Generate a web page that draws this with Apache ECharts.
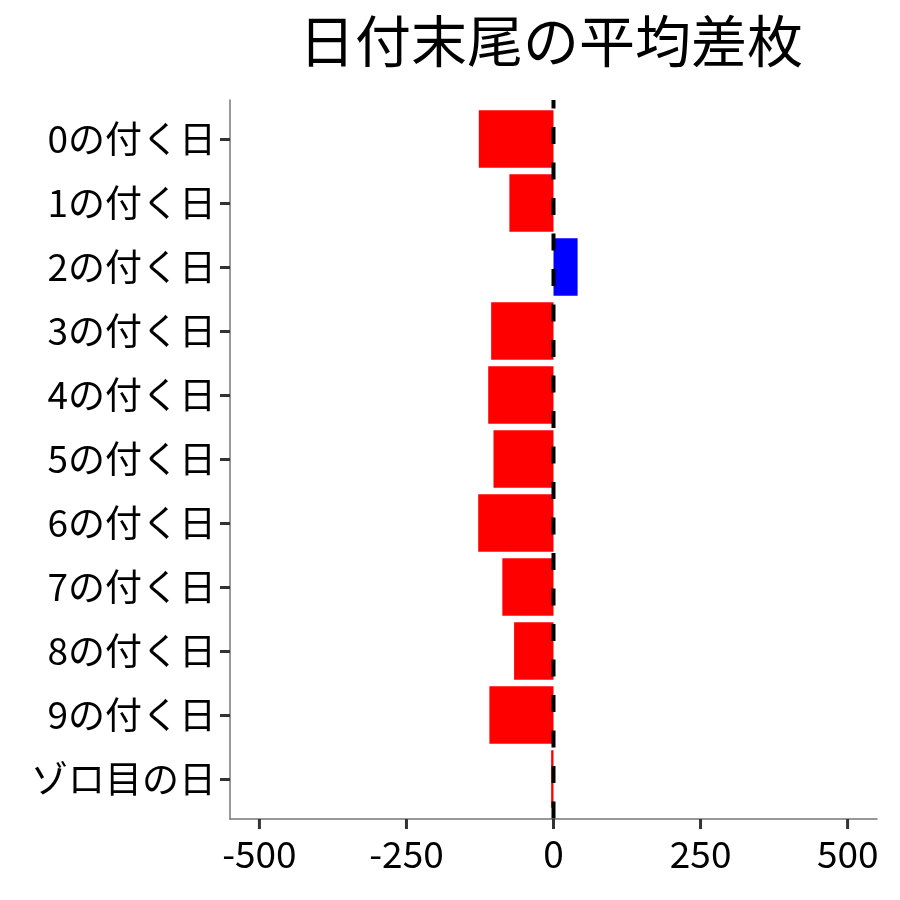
<!DOCTYPE html>
<html>
	<head>
		<meta charset="utf-8">
		<title>日付末尾の平均差枚</title>
		<script src="https://cdn.jsdelivr.net/npm/echarts@6/dist/echarts.min.js"></script>
		<style>
			body { margin: 0; background: #fff; }
		</style>
	</head>
	<body>
		<div id="main" style="width: 900px;height:900px;"></div>
	</body>
	<script type="text/javascript">
		// 日付末尾ごとの平均差枚
		var dayLabels = ["0の付く日","1の付く日","2の付く日","3の付く日","4の付く日","5の付く日",
			"6の付く日","7の付く日","8の付く日","9の付く日","ゾロ目の日"];
		var avgDiff = [-127, -75, 41, -106, -111, -102, -128, -87, -67, -109, -4];
		var xTicks = [-500, -250, 0, 250, 500];
		var refLine = [[0, 1], [0, 0]];

		var font = '"Noto Sans CJK JP", "Noto Sans", sans-serif';
		var myChart = echarts.init(document.getElementById('main'));

		var option = {
			backgroundColor: '#fff',
			animation: false,
			title: {
				text: '日付末尾の平均差枚',
				left: 546,
				top: 8,
				textAlign: 'center',
				textStyle: { fontFamily: font, fontSize: 56, fontWeight: 'normal', color: '#000' }
			},
			grid: [
				// 棒を描く領域
				{ left: 230, right: 23, top: 107, bottom: 89 },
				// 軸の枠
				{ left: 230, right: 23, top: 100, bottom: 81 },
				// x 目盛りラベル (-500〜500 の範囲)
				{ left: 259.4, right: 52.3, top: 100, bottom: 81 }
			],
			xAxis: [{
				gridIndex: 0,
				type: 'value',
				min: -550,
				max: 550,
				show: false
			}, {
				gridIndex: 1,
				type: 'value',
				min: -550,
				max: 550,
				splitLine: { show: false },
				axisLine: { show: true, onZero: false, lineStyle: { color: '#777', width: 1.5 } },
				axisTick: { show: false },
				axisLabel: { show: false }
			}, {
				gridIndex: 2,
				type: 'value',
				min: -500,
				max: 500,
				interval: 250,
				splitLine: { show: false },
				axisLine: { show: false, onZero: false },
				axisTick: { show: false },
				axisLabel: { fontFamily: font, fontSize: 37, color: '#000', margin: 16 }
			}],
			yAxis: [{
				gridIndex: 0,
				type: 'category',
				inverse: true,
				data: dayLabels,
				axisLine: { show: false, onZero: false },
				axisTick: { show: true, alignWithLabel: true, length: 10, lineStyle: { color: '#333', width: 3 } },
				axisLabel: { fontFamily: font, fontSize: 37, color: '#000', margin: 14 }
			}, {
				gridIndex: 1,
				type: 'value',
				min: 0,
				max: 1,
				splitLine: { show: false },
				axisLine: { show: true, onZero: false, lineStyle: { color: '#777', width: 1.5 } },
				axisTick: { show: false },
				axisLabel: { show: false }
			}, {
				gridIndex: 2,
				type: 'value',
				min: 0,
				max: 1,
				show: false
			}],
			series: [{
				type: 'bar',
				xAxisIndex: 0,
				yAxisIndex: 0,
				barCategoryGap: '10%',
				data: avgDiff.map(function (v) {
					return { value: v, itemStyle: { color: v < 0 ? '#ff0000' : '#0000ff' } };
				})
			}, {
				// 0 の破線
				type: 'line',
				xAxisIndex: 1,
				yAxisIndex: 1,
				z: 10,
				symbol: 'none',
				data: refLine,
				lineStyle: { color: '#000', width: 4, type: [17, 18.5], dashOffset: 8.5 }
			}]
		};

		myChart.setOption(option);

		// x 軸の目盛り線（軸のスケールから位置を計算）
		var tickMarks = [];
		xTicks.forEach(function (t) {
			var p = myChart.convertToPixel({ gridIndex: 1 }, [t, 0]);
			if (p && isFinite(p[0]) && isFinite(p[1])) {
				tickMarks.push({
					type: 'rect',
					z: 100,
					silent: true,
					shape: { x: p[0] - 1.5, y: p[1], width: 3, height: 10 },
					style: { fill: '#333' }
				});
			}
		});
		myChart.setOption({ graphic: { elements: tickMarks } });
	</script>
</html>
